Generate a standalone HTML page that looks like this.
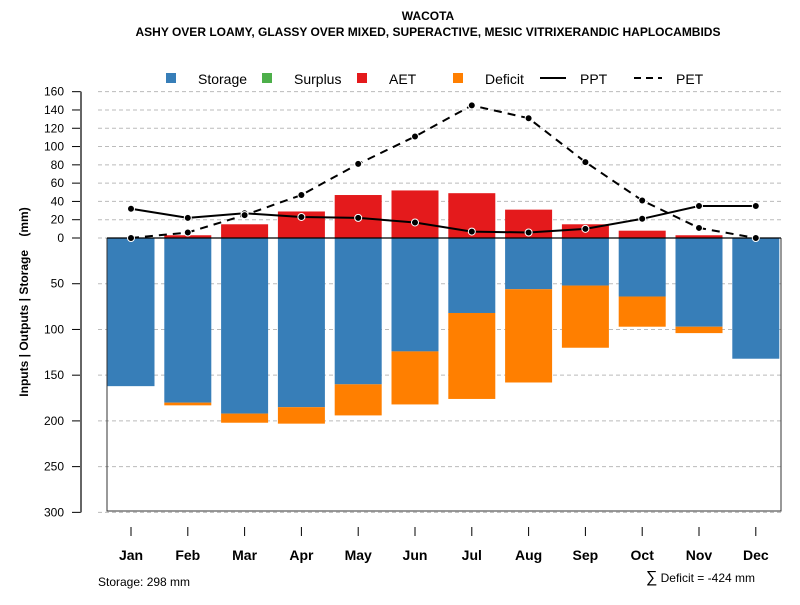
<!DOCTYPE html>
<html><head><meta charset="utf-8"><style>body{margin:0;background:#fff}svg{font-family:"Liberation Sans",sans-serif}</style></head>
<body>
<svg id="c" width="800" height="600" xmlns="http://www.w3.org/2000/svg">
<text x="428" y="20" text-anchor="middle" font-size="12" font-weight="bold">WACOTA</text>
<text x="428" y="36" text-anchor="middle" font-size="12" font-weight="bold">ASHY OVER LOAMY, GLASSY OVER MIXED, SUPERACTIVE, MESIC VITRIXERANDIC HAPLOCAMBIDS</text>
<g id="legend">
<rect x="166" y="73" width="10" height="10" fill="#377EB8"/>
<text x="198" y="84" font-size="14">Storage</text>
<rect x="262" y="73" width="10" height="10" fill="#4DAF4A"/>
<text x="294" y="84" font-size="14">Surplus</text>
<rect x="357" y="73" width="10" height="10" fill="#E41A1C"/>
<text x="389" y="84" font-size="14">AET</text>
<rect x="453" y="73" width="10" height="10" fill="#FF7F00"/>
<text x="485" y="84" font-size="14">Deficit</text>
<line x1="540" y1="78" x2="566" y2="78" stroke="#000" stroke-width="2"/>
<text x="580" y="84" font-size="14">PPT</text>
<line x1="634" y1="78" x2="662" y2="78" stroke="#000" stroke-width="2" stroke-dasharray="7,5"/>
<text x="676" y="84" font-size="14">PET</text>
</g>
<text transform="translate(28,302) rotate(-90)" text-anchor="middle" font-size="12" font-weight="bold" style="white-space:pre">Inputs | Outputs | Storage    (mm)</text>
<text x="98" y="586" font-size="12">Storage: 298 mm</text>
<text x="755" y="582" text-anchor="end" font-size="12"><tspan font-size="16">∑</tspan> Deficit = -424 mm</text>
<g id="plot"></g>
</svg>
<script>
const months=["Jan","Feb","Mar","Apr","May","Jun","Jul","Aug","Sep","Oct","Nov","Dec"];
const storage=[162,180,192,185,160,124,82,56,52,64,97,132];
const deficit=[0,3,10,18,34,58,94,102,68,33,7,0];
const aet=[0,3,15,29,47,52,49,31,15,8,3,0];
const ppt=[32,22,27,23,22,17,7,6,10,21,35,35];
const pet=[0,6,25,47,81,111,145,131,83,41,11,0];
const yTicks=[160,140,120,100,80,60,40,20,0,-50,-100,-150,-200,-250,-300];
const NS="http://www.w3.org/2000/svg";
const g=document.getElementById('plot');
const y=v=>238-v*0.9145;
const x=i=>131+i*56.8;
const bw=47;
function mk(t,a){const e=document.createElementNS(NS,t);for(const k in a)e.setAttribute(k,a[k]);g.appendChild(e);return e;}
yTicks.forEach(t=>{
 const l=mk('line',{x1:98,x2:781,y1:y(t),y2:y(t),stroke:'#bbb','stroke-dasharray':'4,3'});
 
 
 const tk=mk('line',{x1:72,x2:81,y1:y(t),y2:y(t),stroke:'#000'});
 
 
 const tx=mk('text',{x:64,y:y(t)+4,'text-anchor':'end','font-size':12});
 tx.textContent=Math.abs(t);
 
 
});
const ax=mk('line',{x1:81,x2:81,y1:y(160),y2:y(-300),stroke:'#666','stroke-width':2});


const box=mk('path',{d:`M107,${y(0)} V511 H781 V${y(0)}`,fill:'none',stroke:'#333'});


months.forEach((m,i)=>{
 const cx=x(i);
 const s=mk('rect',{x:cx-bw/2,y:y(0),width:bw,height:y(-storage[i])-y(0),fill:'#377EB8'});
 
 
 if(deficit[i]>0){const d=mk('rect',{x:cx-bw/2,y:y(-storage[i]),width:bw,height:y(-storage[i]-deficit[i])-y(-storage[i]),fill:'#FF7F00'});
 
 }
 if(aet[i]>0){const a=mk('rect',{x:cx-bw/2,y:y(aet[i]),width:bw,height:y(0)-y(aet[i]),fill:'#E41A1C'});
 
 }
 const tk=mk('line',{x1:cx,x2:cx,y1:527,y2:536,stroke:'#000'});
 
 
 const t=mk('text',{x:cx,y:560,'text-anchor':'middle','font-size':14,'font-weight':'bold'});
 t.textContent=m;
 
 
});
const z=mk('line',{x1:107,x2:781,y1:y(0),y2:y(0),stroke:'#000','stroke-width':1.2});


function series(arr,name,dash){
 const p=mk('polyline',{points:arr.map((v,i)=>x(i)+','+y(v)).join(' '),fill:'none',stroke:'#000','stroke-width':2,'stroke-dasharray':dash||'none'});
 
 
 arr.forEach((v,i)=>{const c=mk('circle',{cx:x(i),cy:y(v),r:3.5,fill:'#000',stroke:'#fff','stroke-width':1});
 
 });
}
series(ppt,'ppt');
series(pet,'pet','8,6');
</script>
</body></html>
